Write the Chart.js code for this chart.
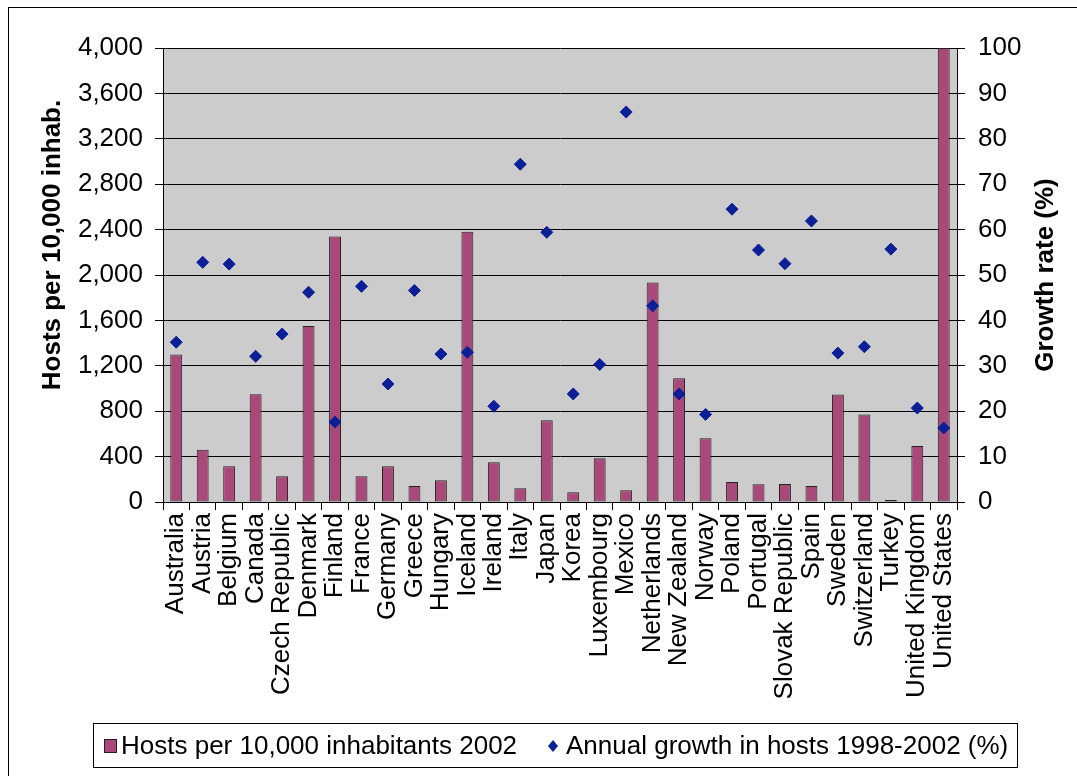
<!DOCTYPE html>
<html>
<head>
<meta charset="utf-8">
<title>Internet hosts per 10,000 inhabitants, OECD</title>
<script src="https://cdn.jsdelivr.net/npm/chart.js@4.4.1/dist/chart.umd.min.js"></script>
<style>
  html, body { margin: 0; padding: 0; background: #ffffff; }
  canvas { display: block; }
</style>
</head>
<body>
<canvas id="hostsChart" width="1077" height="776"></canvas>
<script>
// Countries along the category axis
const countries = [
  'Australia', 'Austria', 'Belgium', 'Canada', 'Czech Republic', 'Denmark',
  'Finland', 'France', 'Germany', 'Greece', 'Hungary', 'Iceland', 'Ireland',
  'Italy', 'Japan', 'Korea', 'Luxembourg', 'Mexico', 'Netherlands',
  'New Zealand', 'Norway', 'Poland', 'Portugal', 'Slovak Republic', 'Spain',
  'Sweden', 'Switzerland', 'Turkey', 'United Kingdom', 'United States'
];

// Internet hosts per 10,000 inhabitants, 2002 (left axis)
const hostsPer10k = [
  1300, 460, 315, 950, 227, 1550,
  2340, 227, 315, 141, 191, 2380, 350,
  121, 721, 86, 385, 103, 1935,
  1090, 562, 176, 156, 159, 141,
  947, 771, 18, 494, 4000
];

// Annual growth in hosts 1998-2002, % (right axis)
const annualGrowth = [
  35.2, 52.8, 52.4, 32.1, 37.0, 46.2,
  17.6, 47.5, 26.0, 46.6, 32.6, 33.0, 21.1,
  74.4, 59.4, 23.8, 30.3, 85.9, 43.2,
  23.8, 19.3, 64.5, 55.5, 52.5, 61.9,
  32.8, 34.2, 55.7, 20.7, 16.3
];

// Axis ranges and tick steps
const hostsAxis = { min: 0, max: 4000, step: 400 };
const growthAxis = { min: 0, max: 100, step: 10 };

// Axis titles and legend entries
const leftAxisTitle = 'Hosts per 10,000 inhab.';
const rightAxisTitle = 'Growth rate (%)';
const legendLabels = ['Hosts per 10,000 inhabitants 2002', 'Annual growth in hosts 1998-2002 (%)'];

const FONT = '"Liberation Sans", Arial, Helvetica, sans-serif';
const BAR_COLOR = '#A9497A';
const DIAMOND_COLOR = '#0B1F96';
const PLOT_BG = '#CCCCCC';

Chart.defaults.font.family = FONT;
Chart.defaults.color = '#000000';

// Page frame, grey plot background, rotated axis titles and boxed legend
const decorations = {
  id: 'decorations',
  beforeDraw(chart) {
    const { ctx, chartArea: a } = chart;
    ctx.save();
    ctx.fillStyle = '#ffffff';
    ctx.fillRect(0, 0, chart.width, chart.height);
    ctx.strokeStyle = '#000000';
    ctx.lineWidth = 1;
    ctx.strokeRect(8.5, 7.5, chart.width + 20, chart.height + 20);
    ctx.fillStyle = PLOT_BG;
    ctx.fillRect(a.left, a.top, a.right - a.left, a.bottom - a.top);
    ctx.restore();
  },
  afterDraw(chart) {
    const { ctx, chartArea: a } = chart;
    ctx.save();
    ctx.fillStyle = '#000000';
    ctx.font = 'bold 26px ' + FONT;
    ctx.textAlign = 'center';
    ctx.textBaseline = 'middle';
    // left title
    ctx.save();
    ctx.translate(53, 245);
    ctx.rotate(-Math.PI / 2);
    ctx.fillText(leftAxisTitle, 0, 0);
    ctx.restore();
    // right title
    ctx.save();
    ctx.translate(1046, (a.top + a.bottom) / 2);
    ctx.rotate(-Math.PI / 2);
    ctx.fillText(rightAxisTitle, 0, 0);
    ctx.restore();

    // legend box
    ctx.strokeStyle = '#000000';
    ctx.lineWidth = 1;
    ctx.strokeRect(93.5, 723.5, 924, 44);
    const cy = 746;
    ctx.fillStyle = BAR_COLOR;
    ctx.fillRect(104.5, 739.5, 12, 13);
    ctx.strokeStyle = '#222222';
    ctx.strokeRect(104.5, 739.5, 12, 13);
    ctx.fillStyle = DIAMOND_COLOR;
    ctx.beginPath();
    ctx.moveTo(553, cy - 6);
    ctx.lineTo(558, cy);
    ctx.lineTo(553, cy + 6);
    ctx.lineTo(548, cy);
    ctx.closePath();
    ctx.fill();
    ctx.fillStyle = '#000000';
    ctx.font = '26px ' + FONT;
    ctx.textAlign = 'left';
    ctx.fillText(legendLabels[0], 121, cy + 1);
    ctx.fillText(legendLabels[1], 566, cy + 1);
    ctx.restore();
  }
};

new Chart(document.getElementById('hostsChart'), {
  data: {
    labels: countries,
    datasets: [
      {
        type: 'line',
        label: legendLabels[1],
        data: annualGrowth,
        yAxisID: 'growth',
        showLine: false,
        pointStyle: 'rectRot',
        pointRadius: 6,
        pointHoverRadius: 6,
        pointBackgroundColor: DIAMOND_COLOR,
        pointBorderColor: DIAMOND_COLOR,
        pointBorderWidth: 1,
        order: 0
      },
      {
        type: 'bar',
        label: legendLabels[0],
        data: hostsPer10k,
        yAxisID: 'hosts',
        backgroundColor: BAR_COLOR,
        borderColor: '#222222',
        borderWidth: 1,
        borderSkipped: false,
        categoryPercentage: 1.0,
        barPercentage: 0.45,
        order: 1
      }
    ]
  },
  options: {
    responsive: false,
    animation: false,
    events: [],
    layout: { padding: { left: 0, right: 0, top: 48, bottom: 0 } },
    plugins: {
      legend: { display: false },
      tooltip: { enabled: false }
    },
    scales: {
      x: {
        type: 'category',
        grid: {
          offset: true,
          drawOnChartArea: false,
          drawTicks: true,
          tickLength: 8,
          tickColor: '#000000'
        },
        border: { display: true, color: '#000000', width: 1 },
        ticks: {
          autoSkip: false,
          minRotation: 90,
          maxRotation: 90,
          padding: 3,
          color: '#000000',
          font: { size: 26 }
        },
        afterFit(scale) { scale.height = 274; }
      },
      hosts: {
        type: 'linear',
        position: 'left',
        min: hostsAxis.min,
        max: hostsAxis.max,
        grid: {
          color: '#000000',
          lineWidth: 1,
          drawTicks: true,
          tickLength: 8,
          tickColor: '#000000'
        },
        border: { display: true, color: '#000000', width: 1 },
        ticks: {
          stepSize: hostsAxis.step,
          padding: 12,
          color: '#000000',
          font: { size: 26 },
          callback: (v) => v.toLocaleString('en-US')
        },
        afterFit(scale) { scale.width = 163; }
      },
      growth: {
        type: 'linear',
        position: 'right',
        min: growthAxis.min,
        max: growthAxis.max,
        grid: {
          drawOnChartArea: false,
          drawTicks: true,
          tickLength: 8,
          tickColor: '#000000'
        },
        border: { display: true, color: '#000000', width: 1 },
        ticks: {
          stepSize: growthAxis.step,
          padding: 13,
          color: '#000000',
          font: { size: 26 }
        },
        afterFit(scale) { scale.width = 120; }
      }
    }
  },
  plugins: [decorations]
});
</script>
</body>
</html>
